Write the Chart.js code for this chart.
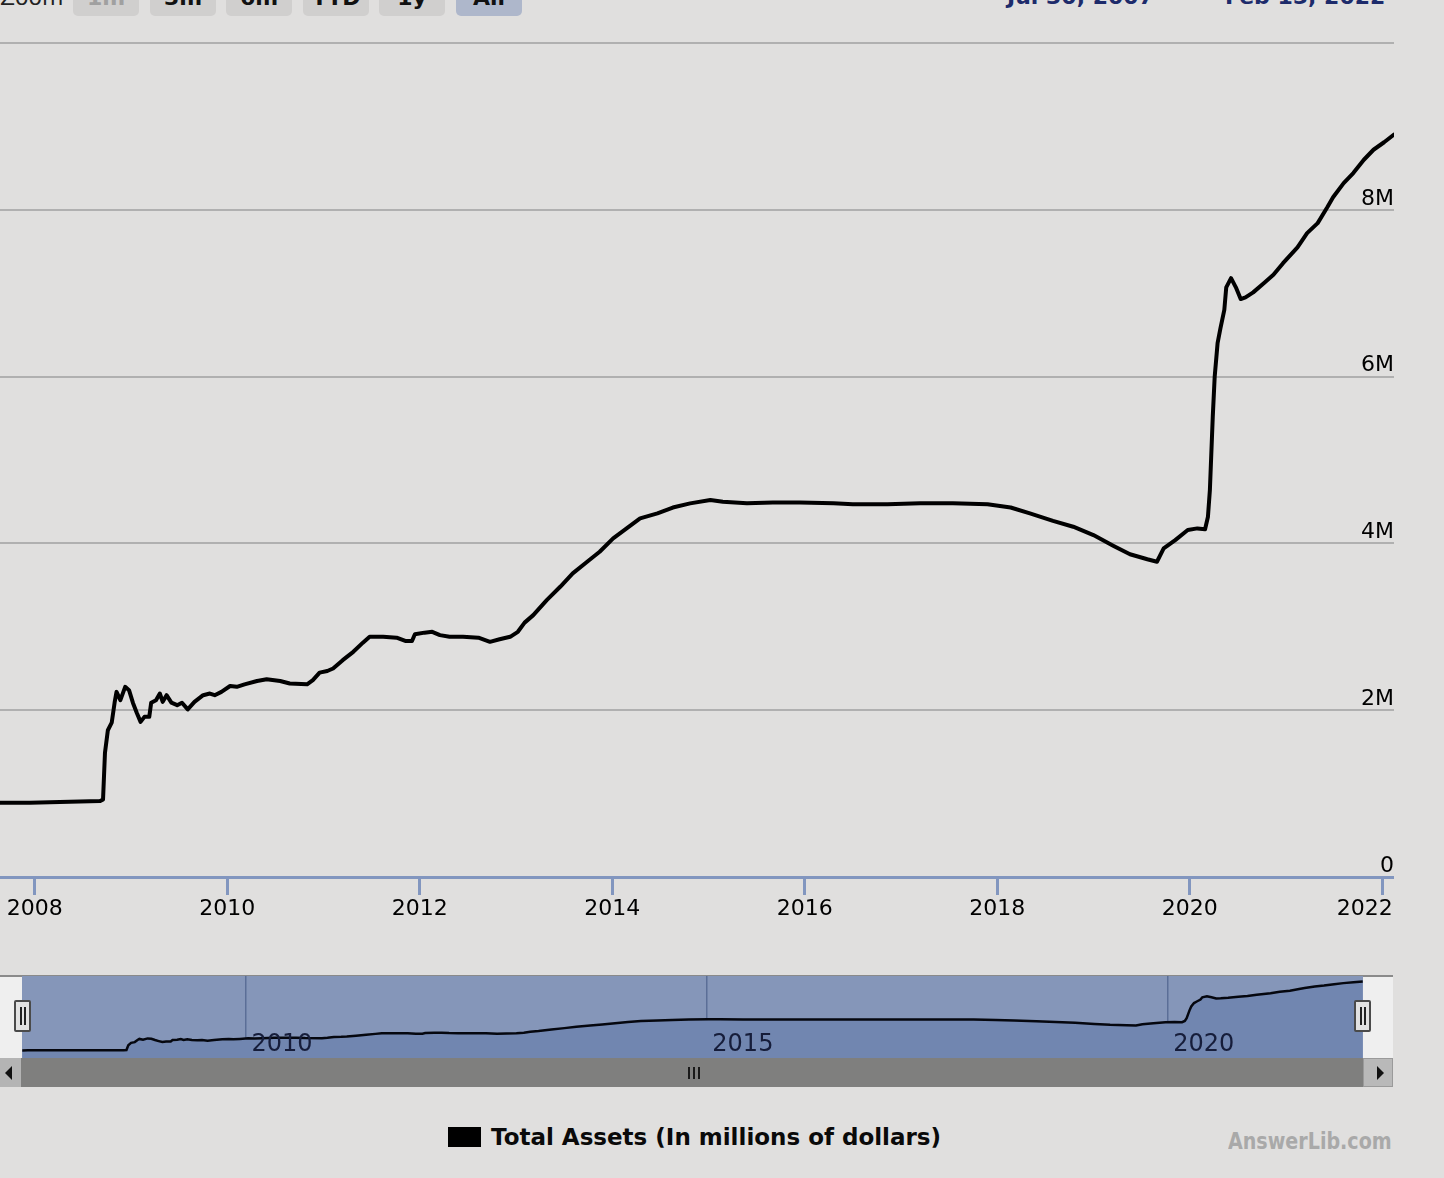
<!DOCTYPE html>
<html>
<head>
<meta charset="utf-8">
<script src="https://cdn.jsdelivr.net/npm/chart.js@4.4.1/dist/chart.umd.min.js"></script>
<style>
html,body{margin:0;padding:0;background:#e0dfde;width:1444px;height:1178px;overflow:hidden;position:relative;font-family:"DejaVu Sans",sans-serif;}
.abs{position:absolute;}
#main{position:absolute;left:-6px;top:33px;}
#nav{position:absolute;left:22px;top:976px;background:#8596b9;}
.btn{position:absolute;top:-20px;height:36px;width:66px;background:#d0cfce;border-radius:0 0 5px 5px;text-align:center;font-size:22px;font-weight:bold;line-height:22px;box-sizing:border-box;padding-top:7px;color:#111;}
.date{position:absolute;top:-13.6px;font-size:22px;font-weight:bold;line-height:22px;color:#1d2b6b;white-space:nowrap;}
.handle{position:absolute;top:1000px;width:13px;height:28px;border:2px solid #4a4a4a;background:#e2e2e2;border-radius:2px;}
.handle i{position:absolute;top:5px;width:2px;height:18px;background:#222;}
</style>
</head>
<body>
<!-- range selector (cut at the top of the picture) -->
<div class="abs" style="left:0;top:-12.6px;width:63px;text-align:right;font-size:22px;line-height:22px;color:#222;">Zoom</div>
<div class="btn" style="left:73px;color:#a0a0a0;">1m</div>
<div class="btn" style="left:150px;">3m</div>
<div class="btn" style="left:226px;">6m</div>
<div class="btn" style="left:303px;">YTD</div>
<div class="btn" style="left:379px;">1y</div>
<div class="btn" style="left:456px;background:#aeb7cb;">All</div>
<div class="date" style="left:1007px;">Jul 30, 2007</div>
<div class="date" style="left:1225px;">Feb 15, 2022</div>

<canvas id="main" width="1400" height="890"></canvas>

<!-- navigator frame -->
<div class="abs" style="left:0;top:975px;width:1393px;height:2px;background:#8a8a8a;"></div>
<div class="abs" style="left:0;top:977px;width:22px;height:81px;background:#efefef;"></div>
<div class="abs" style="left:1363px;top:977px;width:30px;height:81px;background:#efefef;"></div>
<canvas id="nav" width="1341" height="82"></canvas>
<div class="handle" style="left:14px;"><i style="left:4px;"></i><i style="left:8px;"></i></div>
<div class="handle" style="left:1354px;"><i style="left:4px;"></i><i style="left:8px;"></i></div>

<!-- scrollbar -->
<div class="abs" style="left:0;top:1058px;width:1393px;height:29px;background:#7f7f7e;"></div>
<div class="abs" style="left:0;top:1058px;width:21px;height:29px;background:#b4b4b4;"></div>
<div class="abs" style="left:5px;top:1066px;width:0;height:0;border-top:7px solid transparent;border-bottom:7px solid transparent;border-right:7px solid #111;"></div>
<div class="abs" style="left:1363px;top:1058px;width:30px;height:29px;background:#b9b9b9;box-sizing:border-box;border:1px solid #9a9a9a;"></div>
<div class="abs" style="left:1377px;top:1066px;width:0;height:0;border-top:7px solid transparent;border-bottom:7px solid transparent;border-left:7px solid #111;"></div>
<div class="abs" style="left:688px;top:1067px;width:2px;height:12px;background:#1a1a1a;"></div>
<div class="abs" style="left:693px;top:1067px;width:2px;height:12px;background:#1a1a1a;"></div>
<div class="abs" style="left:698px;top:1067px;width:2px;height:12px;background:#1a1a1a;"></div>

<!-- legend + watermark -->
<div class="abs" style="left:448px;top:1127px;width:33px;height:20px;background:#000;"></div>
<div class="abs" style="left:491px;top:1125.6px;font-size:23px;line-height:23px;font-weight:bold;color:#0a0a0a;white-space:nowrap;">Total Assets (In millions of dollars)</div>
<div class="abs" style="left:1228px;top:1130px;font-size:23px;line-height:23px;font-weight:bold;color:#a9a9a9;white-space:nowrap;transform:scaleX(0.83);transform-origin:0 0;">AnswerLib.com</div>

<script>
// ---- data (decimal year, total assets in millions of dollars) ----
const dates = [2007.58, 2007.64, 2007.95, 2008.26, 2008.68,
  2008.71, 2008.73, 2008.76, 2008.80, 2008.83,
  2008.85, 2008.89, 2008.94, 2008.98, 2009.02,
  2009.06, 2009.10, 2009.14, 2009.19, 2009.21,
  2009.26, 2009.30, 2009.33, 2009.37, 2009.42,
  2009.48, 2009.53, 2009.59, 2009.66, 2009.75,
  2009.82, 2009.87, 2009.94, 2010.03, 2010.10,
  2010.18, 2010.31, 2010.41, 2010.55, 2010.65,
  2010.83, 2010.89, 2010.96, 2011.04, 2011.10,
  2011.20, 2011.31, 2011.41, 2011.48, 2011.62,
  2011.76, 2011.85, 2011.92, 2011.95, 2012.05,
  2012.13, 2012.21, 2012.31, 2012.45, 2012.61,
  2012.73, 2012.83, 2012.94, 2013.02, 2013.09,
  2013.18, 2013.32, 2013.46, 2013.59, 2013.74,
  2013.87, 2014.01, 2014.15, 2014.29, 2014.47,
  2014.63, 2014.81, 2015.02, 2015.15, 2015.40,
  2015.67, 2015.95, 2016.30, 2016.50, 2016.86,
  2017.20, 2017.54, 2017.90, 2018.14, 2018.34,
  2018.58, 2018.79, 2019.00, 2019.21, 2019.38,
  2019.56, 2019.66, 2019.73, 2019.85, 2019.98,
  2020.08, 2020.16, 2020.19, 2020.21, 2020.24,
  2020.26, 2020.29, 2020.32, 2020.36, 2020.38,
  2020.43, 2020.48, 2020.53, 2020.58, 2020.66,
  2020.77, 2020.87, 2020.97, 2021.12, 2021.22,
  2021.33, 2021.43, 2021.49, 2021.60, 2021.70,
  2021.81, 2021.91, 2022.02, 2022.12];

const totalAssets = [880000, 890000, 890000, 900000, 910000,
  930000, 1490000, 1760000, 1850000, 2090000,
  2220000, 2120000, 2280000, 2240000, 2090000,
  1970000, 1860000, 1920000, 1920000, 2090000,
  2120000, 2200000, 2100000, 2180000, 2090000,
  2060000, 2090000, 2010000, 2100000, 2180000,
  2200000, 2180000, 2220000, 2290000, 2280000,
  2310000, 2350000, 2370000, 2350000, 2320000,
  2310000, 2360000, 2450000, 2470000, 2500000,
  2600000, 2700000, 2810000, 2880000, 2880000,
  2870000, 2830000, 2830000, 2910000, 2930000,
  2940000, 2900000, 2880000, 2880000, 2870000,
  2820000, 2850000, 2880000, 2940000, 3050000,
  3140000, 3320000, 3480000, 3640000, 3780000,
  3900000, 4060000, 4180000, 4300000, 4360000,
  4430000, 4480000, 4520000, 4500000, 4480000,
  4490000, 4490000, 4480000, 4470000, 4470000,
  4480000, 4480000, 4470000, 4430000, 4360000,
  4270000, 4200000, 4100000, 3970000, 3870000,
  3810000, 3780000, 3940000, 4040000, 4160000,
  4180000, 4170000, 4320000, 4640000, 5520000,
  6000000, 6400000, 6580000, 6800000, 7070000,
  7180000, 7070000, 6930000, 6950000, 7010000,
  7120000, 7220000, 7360000, 7550000, 7720000,
  7840000, 8030000, 8150000, 8320000, 8440000,
  8600000, 8720000, 8810000, 8900000];

const seriesName = 'Total Assets (In millions of dollars)';
const rangeStart = 2007.577;   // Jul 30, 2007
const rangeEnd = 2022.123;     // Feb 15, 2022
const xTickYears = [2008, 2010, 2012, 2014, 2016, 2018, 2020, 2022];
const yTicks = [0, 2000000, 4000000, 6000000, 8000000, 10000000];
const navTickYears = [2010, 2015, 2020];

const points = dates.map((d, i) => ({x: d, y: totalAssets[i]}));

const AXIS_BLUE = '#8296bf';
const FONT = '"DejaVu Sans", sans-serif';

new Chart(document.getElementById('main'), {
  type: 'line',
  data: { datasets: [{
    label: seriesName, data: points,
    borderColor: '#000', borderWidth: 4, pointRadius: 0, tension: 0, fill: false,
    borderJoinStyle: 'round', borderCapStyle: 'round'
  }]},
  options: {
    responsive: false, animation: false, events: [],
    layout: { padding: { top: 10, left: 0, right: 0, bottom: 0 } },
    plugins: { legend: { display: false }, tooltip: { enabled: false } },
    scales: {
      x: {
        type: 'linear', min: rangeStart, max: rangeEnd,
        afterBuildTicks: s => { s.ticks = xTickYears.map(v => ({value: v})); },
        afterFit: s => { s.paddingLeft = 0; s.paddingRight = 0; },
        grid: { drawOnChartArea: false, drawTicks: true, tickLength: 18, tickColor: AXIS_BLUE, tickWidth: 3 },
        border: { display: true, color: AXIS_BLUE, width: 3 },
        ticks: {
          padding: 1, color: '#000', maxRotation: 0, autoSkip: false,
          font: { family: FONT, size: 22, lineHeight: '26px' },
          callback: v => v === xTickYears[xTickYears.length - 1] ? String(v) + '     ' : String(v)
        }
      },
      y: {
        type: 'linear', position: 'right', min: 0, max: 10000000,
        afterBuildTicks: s => { s.ticks = yTicks.map(v => ({value: v})); },
        afterFit: s => { s.paddingTop = 0; s.paddingBottom = 0; },
        grid: { drawTicks: false, lineWidth: 2,
          color: c => (c.tick && c.tick.value === 0) ? 'rgba(0,0,0,0)' : '#b0b0b0' },
        border: { display: false },
        ticks: {
          mirror: true, padding: 0, align: 'end', color: '#000',
          font: { family: FONT, size: 22 },
          callback: v => v === 0 ? '0' : (v >= 10000000 ? '' : (v / 1000000) + 'M')
        }
      }
    }
  }
});

const navLabels = {
  id: 'navLabels',
  afterDatasetsDraw(chart) {
    const ctx = chart.ctx, xs = chart.scales.x;
    ctx.save();
    ctx.font = '24px ' + FONT;
    ctx.fillStyle = '#161d3a';
    ctx.textAlign = 'left';
    ctx.textBaseline = 'alphabetic';
    navTickYears.forEach(y => ctx.fillText(String(y), xs.getPixelForValue(y) + 6, 75));
    ctx.restore();
  }
};

new Chart(document.getElementById('nav'), {
  type: 'line',
  data: { datasets: [{
    label: seriesName, data: points,
    borderColor: '#05070f', borderWidth: 2.5, pointRadius: 0, tension: 0,
    fill: 'origin', backgroundColor: '#7186b0'
  }]},
  options: {
    responsive: false, animation: false, events: [],
    layout: { padding: 0 },
    plugins: { legend: { display: false }, tooltip: { enabled: false } },
    scales: {
      x: {
        type: 'linear', min: rangeStart, max: rangeEnd,
        afterBuildTicks: s => { s.ticks = navTickYears.map(v => ({value: v})); },
        grid: { drawTicks: false, color: '#5b6e97', lineWidth: 1.5 },
        border: { display: false },
        ticks: { display: false }
      },
      y: { display: false, min: 0, max: 9550000 }
    }
  },
  plugins: [navLabels]
});
</script>
</body>
</html>
